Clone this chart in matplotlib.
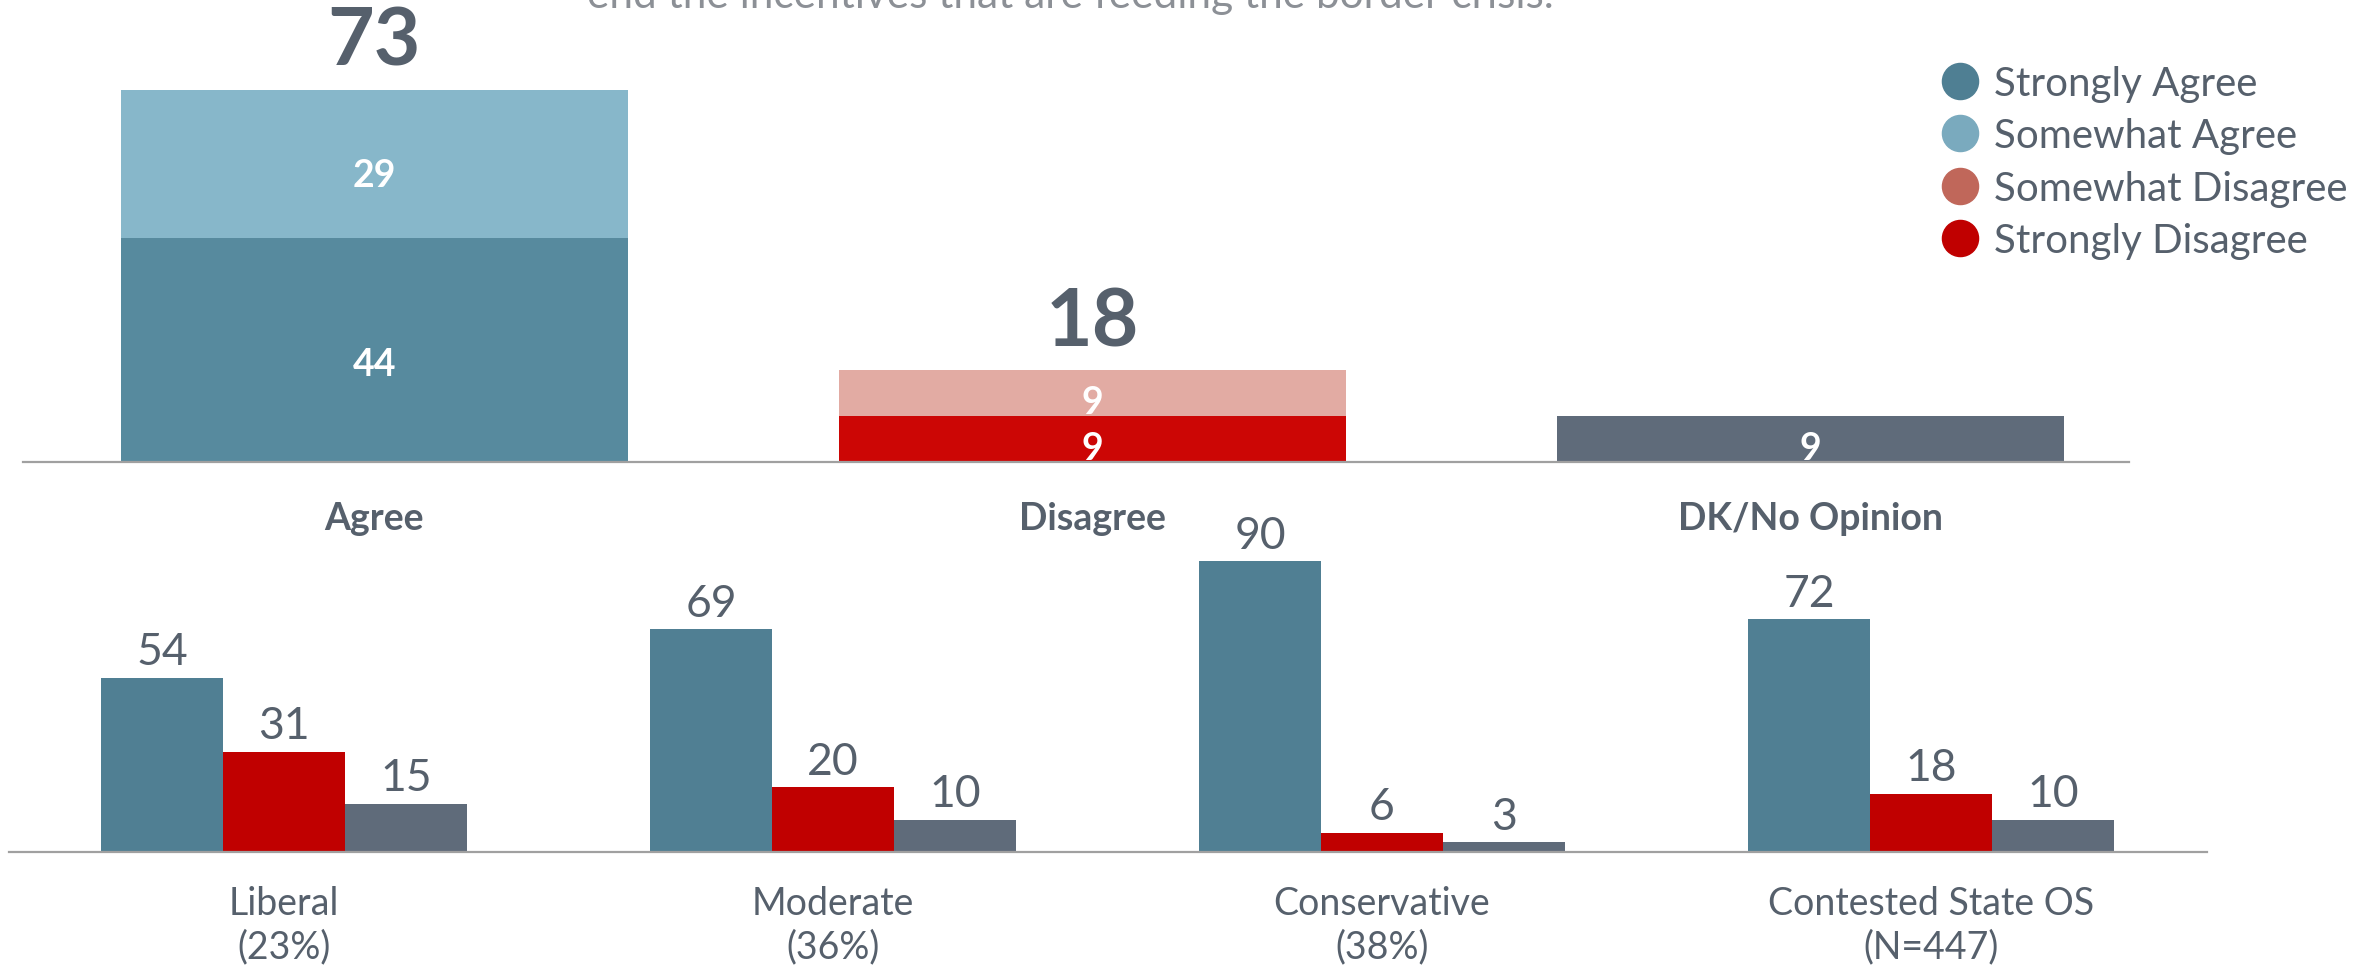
import matplotlib
matplotlib.use("Agg")
import matplotlib.pyplot as plt
from matplotlib.lines import Line2D

plt.rcParams['font.family'] = ['Lato', 'DejaVu Sans']

# ====== data ======
top_categories = ["Agree", "Disagree", "DK/No Opinion"]
strongly_agree = 44
somewhat_agree = 29
strongly_disagree = 9
somewhat_disagree = 9
dk_no_opinion = 9
top_totals = [73, 18]

groups = ["Liberal\n(23%)", "Moderate\n(36%)", "Conservative\n(38%)", "Contested State OS\n(N=447)"]
group_agree = [54, 69, 90, 72]
group_disagree = [31, 20, 6, 18]
group_dk = [15, 10, 3, 10]

legend_labels = ["Strongly Agree", "Somewhat Agree", "Somewhat Disagree", "Strongly Disagree"]

# ====== colours ======
TEXT = '#56606c'
C_SA_TOP = '#578a9e'
C_WA_TOP = '#87b7ca'
C_WD_TOP = '#e2aba3'
C_SD_TOP = '#cc0605'
C_DK = '#5f6b7a'
C_BLUE = '#507f93'
C_RED = '#c00000'
legend_colors = ['#4f7f93', '#7aaabe', '#c0675a', '#c00000']

W, H = 2371, 970
fig = plt.figure(figsize=(W / 100, H / 100), dpi=100)


def px_axes(left, right, bottom_from_top, top_from_top):
    ax = fig.add_axes([left / W, 1 - bottom_from_top / H,
                       (right - left) / W, (bottom_from_top - top_from_top) / H])
    ax.patch.set_visible(False)
    return ax


def clean(ax):
    for s in ['top', 'right', 'left']:
        ax.spines[s].set_visible(False)
    ax.spines['bottom'].set_color('#a0a0a0')
    ax.spines['bottom'].set_linewidth(1.6)
    ax.set_yticks([])
    ax.tick_params(axis='x', length=0)


# ====== top panel: stacked bars ======
ax1 = px_axes(23, 2129, 463, 0)
clean(ax1)
bw = 0.706
ax1.bar(0, strongly_agree, bw, color=C_SA_TOP)
ax1.bar(0, somewhat_agree, bw, bottom=strongly_agree, color=C_WA_TOP)
ax1.bar(1, strongly_disagree, bw, color=C_SD_TOP)
ax1.bar(1, somewhat_disagree, bw, bottom=strongly_disagree, color=C_WD_TOP)
ax1.bar(2, dk_no_opinion, bw, color=C_DK)
ax1.set_xlim(-0.489, 2.444)
ax1.set_ylim(0, 463 / 5.1)

seg_kw = dict(ha='center', va='center', color='white', fontsize=27, fontweight='bold')
ax1.text(0, strongly_agree / 2 - 2.8, str(strongly_agree), **seg_kw)
ax1.text(0, strongly_agree + somewhat_agree / 2 - 2.2, str(somewhat_agree), **seg_kw)
ax1.text(1, strongly_disagree / 2 - 1.8, str(strongly_disagree), **seg_kw)
ax1.text(1, strongly_disagree + somewhat_disagree / 2 - 1.8, str(somewhat_disagree), **seg_kw)
ax1.text(2, dk_no_opinion / 2 - 1.8, str(dk_no_opinion), **seg_kw)

for i, t in enumerate(top_totals):
    ax1.annotate(str(t), (i, t), xytext=(0, 8), textcoords='offset points',
                 ha='center', va='bottom', fontsize=58, fontweight='bold', color=TEXT)

ax1.set_xticks(range(len(top_categories)))
ax1.set_xticklabels(top_categories, fontsize=27, fontweight='bold', color=TEXT)
ax1.tick_params(axis='x', pad=28)

# partly cut-off question text at the top
fig.text(1070 / W, 1 - 8 / H, "end the incentives that are feeding the border crisis.",
         ha='center', va='baseline', fontsize=30.5, color='#8c9096')

# legend
handles = [Line2D([], [], linestyle='none', marker='o', markersize=26,
                  markerfacecolor=c, markeredgecolor=c) for c in legend_colors]
fig.legend(handles, legend_labels, loc='upper left', bbox_to_anchor=(1940 / W, 1 - 66 / H),
           frameon=False, fontsize=29, labelcolor=TEXT, handletextpad=0.35,
           labelspacing=0.38, handlelength=1.0, borderpad=0, borderaxespad=0)

# ====== bottom panel: grouped bars ======
ax2 = px_axes(9, 2207, 853, 560)
clean(ax2)
gw = 0.222
xs = list(range(len(groups)))
for off, vals, col in [(-gw, group_agree, C_BLUE), (0, group_disagree, C_RED), (gw, group_dk, C_DK)]:
    pos = [x + off for x in xs]
    ax2.bar(pos, vals, gw, color=col)
    for p, v in zip(pos, vals):
        ax2.annotate(str(v), (p, v), xytext=(0, 4), textcoords='offset points',
                     ha='center', va='bottom', fontsize=32, color=TEXT)
ax2.set_xlim(-0.501, 3.503)
ax2.set_ylim(0, 293 / 3.23)
ax2.set_xticks(xs)
ax2.set_xticklabels(groups, fontsize=27, color=TEXT, linespacing=1.25)
ax2.tick_params(axis='x', pad=24)

fig.savefig("out.png", dpi=100)
